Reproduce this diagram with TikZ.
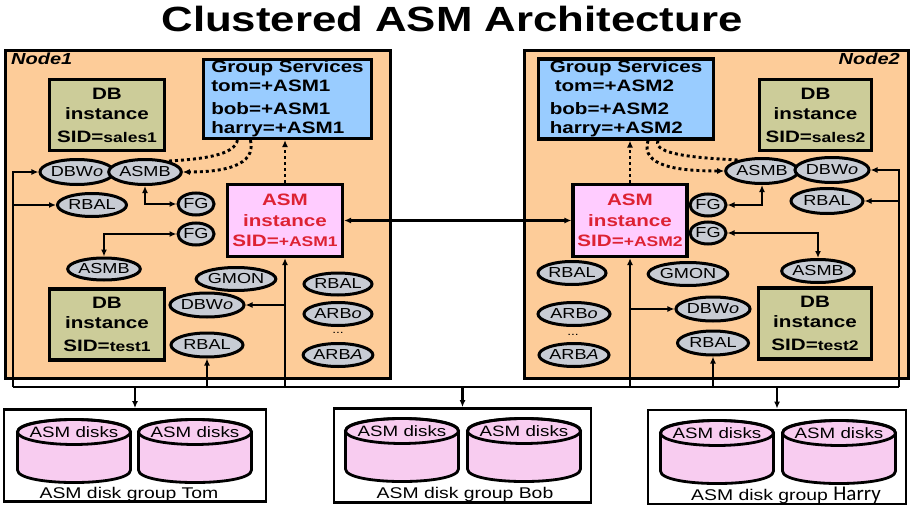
\documentclass[tikz,border=0pt]{standalone}
\usepackage{fontspec}
\setmainfont[FakeStretch=1.25]{Liberation Sans}
\newfontfamily\harryfont{Carlito}
\usetikzlibrary{shapes.geometric,arrows.meta}
\definecolor{peach}{HTML}{FDCC99}
\definecolor{khaki}{HTML}{CCCC99}
\definecolor{gsblue}{HTML}{99CCFF}
\definecolor{asmpink}{HTML}{FFCCFF}
\definecolor{asmred}{HTML}{DD2233}
\definecolor{procgray}{HTML}{C8CCD4}
\definecolor{diskpink}{HTML}{F8CCF0}
\newcommand{\diskcyl}[3]{%
  \filldraw[fill=diskpink, line width=2.8pt, line join=round]
    (#1-56.5,#2) -- (#1-56.5,#2+38)
    .. controls (#1-56.5,#2+54.7) and (#1+56.5,#2+54.7) .. (#1+56.5,#2+38)
    -- (#1+56.5,#2)
    .. controls (#1+56.5,#2-16.7) and (#1-56.5,#2-16.7) .. (#1-56.5,#2) -- cycle;
  \draw[line width=2.8pt] (#1,#2) ellipse [x radius=56.5, y radius=12.5];
  \node[disktext] (#3) at (#1,#2) {ASM disks};
}
\begin{document}
\begin{tikzpicture}[x=1pt,y=-1pt,
  >={Latex[length=7pt,width=6pt]},
  nodebox/.style={draw, line width=3.2pt, fill=peach, inner sep=0pt, anchor=north west},
  dbbox/.style={draw, line width=3.2pt, fill=khaki, inner sep=0pt, minimum width=115pt, minimum height=71pt, align=center, font=\bfseries\fontsize{16.5}{20}\selectfont},
  gsbox/.style={draw, line width=3.2pt, fill=gsblue, inner sep=0pt, align=left, font=\bfseries\fontsize{16.5}{19}\selectfont},
  asmbox/.style={draw, line width=3.2pt, fill=asmpink, inner sep=0pt, minimum width=115pt, minimum height=72pt, align=center, text=asmred, font=\bfseries\fontsize{16.5}{20.5}\selectfont},
  proc/.style={ellipse, draw, line width=3pt, fill=procgray, inner sep=0pt, minimum height=23pt, font=\fontsize{14.5}{14.5}\selectfont},
  lbl/.style={inner sep=0pt, font=\bfseries\itshape\fontsize{16}{16}\selectfont},
  conn/.style={line width=2.5pt},
  bus/.style={line width=2.8pt},
  dotline/.style={line width=2.9pt, dash pattern=on 3pt off 3pt},
  dgbox/.style={draw, line width=2.8pt, fill=white, inner sep=0pt},
  disktext/.style={inner sep=0pt, font=\fontsize{15}{15}\selectfont},
  grplabel/.style={inner sep=0pt, anchor=base, font=\fontsize{15.5}{15.5}\selectfont}
]
\fill[white] (0,0) rectangle (912,516);
\useasboundingbox (0,0) rectangle (912,516);

% title
\node[inner sep=0pt, anchor=base, font=\bfseries\fontsize{35}{35}\selectfont] (title) at (452,32) {Clustered ASM Architecture};

% node containers
\node[nodebox, minimum width=385pt, minimum height=328pt] (node1) at (4,49) {};
\node[nodebox, minimum width=384pt, minimum height=328pt] (node2) at (523,49) {};
\node[lbl, anchor=north west] (lab1) at (11,53) {Node1};
\node[lbl, anchor=north east] (lab2) at (900,53) {Node2};

% bus coordinates
\coordinate (busL) at (13,387);
\coordinate (busR) at (899,387);

% ---------- Node 1 ----------
\node[dbbox] (db1) at (107,115) {DB\\instance\\[3pt]SID={\fontsize{14}{14}\selectfont sales1}};
\node[gsbox, minimum width=168pt, minimum height=79pt] (gs1) at (287.5,99) {Group Services\\tom=+ASM1\\[4pt]bob=+ASM1\\harry=+ASM1};
\node[asmbox] (asm1) at (285,220.5) {ASM\\instance\\SID={\fontsize{14}{14}\selectfont +ASM1}};
\node[dbbox] (db1b) at (107,324.5) {DB\\instance\\[3pt]SID={\fontsize{14}{14}\selectfont test1}};

\node[proc, minimum width=70pt, minimum height=25pt] (dbw1) at (77,172) {DBW\textit{o}};
\node[proc, minimum width=62pt, minimum height=25pt] (asmb1) at (145,172) {ASMB};
\node[proc, minimum width=69pt] (rbal1) at (92,205) {RBAL};
\node[proc, minimum width=36pt, minimum height=22pt] (fg1) at (196,204) {FG};
\node[proc, minimum width=36pt, minimum height=22pt] (fg2) at (196,234) {FG};
\node[proc, minimum width=70pt, minimum height=22pt] (asmbL1) at (104,269) {ASMB};
\node[proc, minimum width=70pt] (gmon1) at (236,279) {GMON};
\node[proc, minimum width=72pt, minimum height=24pt] (dbwL1) at (207,305) {DBW\textit{o}};
\node[proc, minimum width=72pt, minimum height=24pt] (rbalL1) at (207,345) {RBAL};
\node[proc, minimum width=68pt, minimum height=22pt] (rbalR1) at (338,284) {RBAL};
\node[proc, minimum width=68pt] (arbo1) at (338,314) {ARB\textit{o}};
\node[inner sep=0pt, font=\fontsize{11}{11}\selectfont] (dots1) at (338,333) {...};
\node[proc, minimum width=68pt] (arba1) at (338,355) {ARB\textit{A}};

% ---------- Node 2 ----------
\node[gsbox, minimum width=175pt, minimum height=80pt] (gs2) at (626,99) {Group Services\\\hspace{5pt}tom=+ASM2\\[4pt]bob=+ASM2\\harry=+ASM2};
\node[dbbox, minimum width=112pt] (db2) at (815.5,115) {DB\\instance\\[3pt]SID={\fontsize{14}{14}\selectfont sales2}};
\node[asmbox, minimum width=114pt] (asm2) at (630,220.5) {ASM\\instance\\SID={\fontsize{14}{14}\selectfont +ASM2}};
\node[dbbox, minimum width=113pt] (db2b) at (815,323.5) {DB\\instance\\[3pt]SID={\fontsize{14}{14}\selectfont test2}};

\node[proc, minimum width=59pt, minimum height=25pt] (asmb2) at (762,171) {ASMB};
\node[proc, minimum width=70pt, minimum height=25pt] (dbw2) at (832,170) {DBW\textit{o}};
\node[proc, minimum width=72pt, minimum height=25pt] (rbal2) at (827,201) {RBAL};
\node[proc, minimum width=36pt, minimum height=22pt] (fg2a) at (708,205) {FG};
\node[proc, minimum width=36pt, minimum height=22pt] (fg2b) at (708,233) {FG};
\node[proc, minimum width=68pt] (rbalR2) at (572,273) {RBAL};
\node[proc, minimum width=70pt] (gmon2) at (688,274) {GMON};
\node[proc, minimum width=70pt] (asmbL2) at (818,271) {ASMB};
\node[proc, minimum width=74pt, minimum height=24pt] (dbwL2) at (713,309) {DBW\textit{o}};
\node[proc, minimum width=71pt, minimum height=24pt] (rbalL2) at (713,343) {RBAL};
\node[proc, minimum width=72pt] (arbo2) at (574,314) {ARB\textit{o}};
\node[inner sep=0pt, font=\fontsize{11}{11}\selectfont] (dots2) at (573,335) {...};
\node[proc, minimum width=70pt] (arba2) at (574,355) {ARB\textit{A}};

% ---------- disk groups ----------
\node[dgbox, minimum width=262pt, minimum height=92pt] (dgtom) at (135,455.5) {};
\node[dgbox, minimum width=257pt, minimum height=94pt] (dgbob) at (462.5,455.5) {};
\node[dgbox, minimum width=258pt, minimum height=94pt] (dgharry) at (777,457) {};
\diskcyl{74}{432}{dk1}
\diskcyl{195}{432}{dk2}
\diskcyl{402}{431}{dk3}
\diskcyl{524}{431}{dk4}
\diskcyl{717}{433}{dk5}
\diskcyl{839}{433}{dk6}
\node[grplabel] (gtom) at (129,498) {ASM disk group Tom};
\node[grplabel] (gbob) at (465,498) {ASM disk group Bob};
\node[grplabel] (gharry) at (786,500) {ASM disk group {\harryfont\fontsize{21}{21}\selectfont Harry}};

% ---------- bus ----------
\draw[bus] (busL) -- (busR);
\draw[conn,->] (busL) |- (dbw1.west);
\draw[conn,->] (busL |- rbal1.west) -- (rbal1.west);
\draw[conn,->] (busR) |- (dbw2.east);
\draw[conn,->] (busR |- rbal2.east) -- (rbal2.east);
\draw[conn,->] (rbalL1.south |- busL) -- (rbalL1.south);
\draw[conn,->] (asm1.south |- busL) -- (asm1.south);
\draw[conn,->] (asm1.south |- dbwL1.east) -- (dbwL1.east);
\draw[conn,->] (rbalL2.south |- busR) -- (rbalL2.south);
\draw[conn,->] (asm2.south |- busR) -- (asm2.south);
\draw[conn,->] (asm2.south |- dbwL2.west) -- (dbwL2.west);
\draw[conn,->] (dgtom.north |- busL) -- (dgtom.north);
\draw[conn,->] (dgbob.north |- busL) -- (dgbob.north);
\draw[conn,->] (dgharry.north |- busL) -- (dgharry.north);

% ---------- inner connectors ----------
\draw[conn,<->] (asm1.east) -- (asm2.west);
\draw[conn,<->] (asmb1.south) |- (fg1.west);
\draw[conn,<->] (asmbL1.north) |- (fg2.west);
\draw[conn,<->] (asmb2.south) |- (fg2a.east);
\draw[conn,<->] (asmbL2.north) |- (fg2b.east);

% ---------- dotted ----------
\draw[dotline,->] (asm1.north) -- (asm1.north |- gs1.south);
\draw[dotline,->] (asm2.north) -- (asm2.north |- gs2.south);
\draw[dotline] ([xshift=-50pt]gs1.south) .. controls +(-3,15) and +(35,-2) .. (asmb1.25);
\draw[dotline,->] ([xshift=-37pt]gs1.south) .. controls +(6,26) and +(40,0) .. (asmb1.east);
\draw[dotline] ([xshift=32pt]gs2.south) .. controls +(-6,14) and +(-40,-2) .. (asmb2.155);
\draw[dotline,->] ([xshift=22pt]gs2.south) .. controls +(-8,26) and +(-45,0) .. (asmb2.west);
\end{tikzpicture}
\end{document}
